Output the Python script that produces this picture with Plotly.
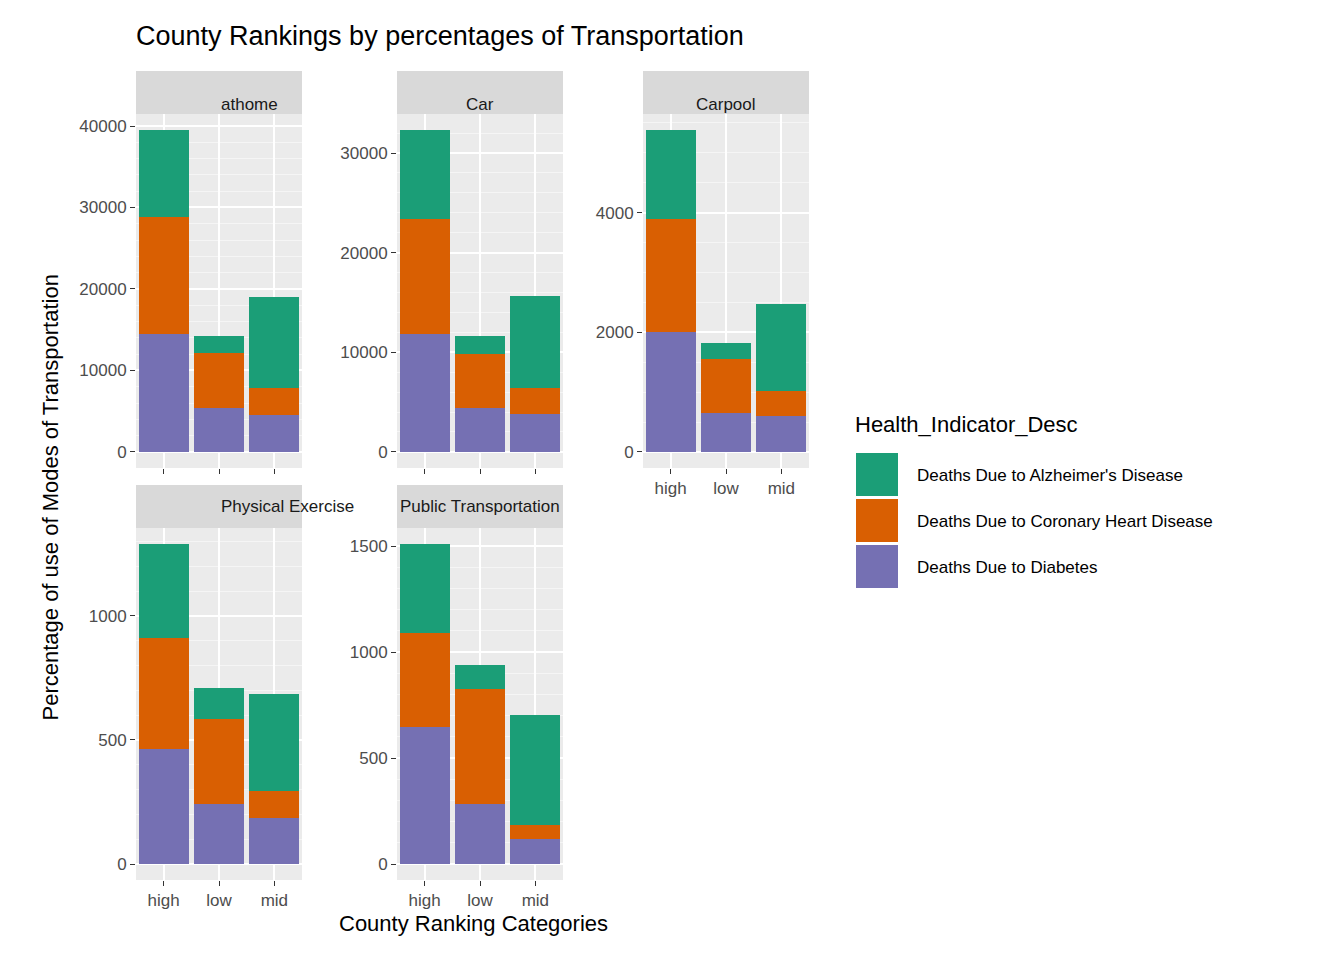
import plotly.graph_objects as go

categories = ["high", "low", "mid"]
panels = ["athome", "Car", "Carpool", "Physical Exercise", "Public Transportation"]
diabetes = {
    "athome": [14500, 5400, 4500],
    "Car": [11800, 4400, 3800],
    "Carpool": [2000, 650, 600],
    "Physical Exercise": [465, 240, 185],
    "Public Transportation": [645, 285, 120],
}
heart = {
    "athome": [14300, 6700, 3300],
    "Car": [11600, 5400, 2600],
    "Carpool": [1900, 900, 420],
    "Physical Exercise": [445, 345, 110],
    "Public Transportation": [445, 540, 65],
}
alzheimer = {
    "athome": [10700, 2100, 11200],
    "Car": [8900, 1800, 9200],
    "Carpool": [1480, 270, 1460],
    "Physical Exercise": [380, 125, 390],
    "Public Transportation": [420, 115, 520],
}
dticks = [10000, 10000, 2000, 500, 500]

W, H = 1344, 960
px = lambda v: v / W
py = lambda v: 1 - v / H
xdom = [(128, 294), (389, 555), (635, 801), (128, 294), (389, 555)]
ydom = [(106, 460), (106, 460), (106, 460), (520, 872), (520, 872)]
strip = [(63, 106)] * 3 + [(477, 520)] * 2

series = [("Deaths Due to Diabetes", diabetes, "#7570B3"),
          ("Deaths Due to Coronary Heart Disease", heart, "#D95F02"),
          ("Deaths Due to Alzheimer's Disease", alzheimer, "#1B9E77")]

fig = go.Figure()
layout = {}
shapes, annotations = [], []
for i, p in enumerate(panels):
    n = "" if i == 0 else str(i + 1)
    for name, d, col in series:
        fig.add_trace(go.Bar(x=categories, y=d[p], name=name, marker_color=col,
                             marker_line_width=0, showlegend=False,
                             xaxis="x" + n, yaxis="y" + n))
    total = max(a + b + c for a, b, c in zip(diabetes[p], heart[p], alzheimer[p]))
    layout["xaxis" + n] = dict(domain=[px(xdom[i][0]), px(xdom[i][1])], anchor="y" + n,
                               showgrid=True, gridcolor="white", gridwidth=1.5,
                               ticks="outside", ticklen=5, tickcolor="#333",
                               showticklabels=(i >= 2), tickfont=dict(size=17, color="#4D4D4D"))
    layout["yaxis" + n] = dict(domain=[py(ydom[i][1]), py(ydom[i][0])], anchor="x" + n,
                               range=[-0.05 * total, 1.05 * total], dtick=dticks[i], tickformat="d",
                               showgrid=True, gridcolor="white", gridwidth=1.5, zeroline=False,
                               minor=dict(showgrid=True, gridcolor="#F5F5F5", gridwidth=0.8),
                               ticks="outside", ticklen=5, tickcolor="#333",
                               tickfont=dict(size=17, color="#4D4D4D"))
    shapes.append(dict(type="rect", xref="paper", yref="paper", layer="below",
                       x0=px(xdom[i][0]), x1=px(xdom[i][1]), y0=py(strip[i][1]), y1=py(strip[i][0]),
                       fillcolor="#D9D9D9", line_width=0))
    annotations.append(dict(text=p, xref="paper", yref="paper", showarrow=False,
                            x=px((xdom[i][0] + xdom[i][1]) / 2), y=py((strip[i][0] + strip[i][1]) / 2),
                            font=dict(size=17, color="#1A1A1A")))

# legend drawn by hand (ggplot style keys)
annotations.append(dict(text="Health_Indicator_Desc", xref="paper", yref="paper", x=px(845), y=py(417),
                        xanchor="left", showarrow=False, font=dict(size=22, color="black")))
for k, (name, d, col) in enumerate(reversed(series)):
    top = 445 + 46 * k
    shapes.append(dict(type="rect", xref="paper", yref="paper", x0=px(848), x1=px(890),
                       y0=py(top + 43), y1=py(top), fillcolor=col, line_width=0))
    annotations.append(dict(text=name, xref="paper", yref="paper", x=px(907), y=py(top + 22),
                            xanchor="left", showarrow=False, font=dict(size=17, color="black")))

annotations += [
    dict(text="Percentage of use of Modes of Transportation", textangle=-90, xref="paper", yref="paper",
         x=px(28), y=py(490), showarrow=False, font=dict(size=22, color="black")),
    dict(text="County Ranking Categories", xref="paper", yref="paper", x=px(465), y=py(930),
         showarrow=False, font=dict(size=22, color="black")),
]

fig.update_layout(
    width=W, height=H, margin=dict(l=0, r=0, t=0, b=0, autoexpand=False),
    barmode="stack", bargap=0.1, plot_bgcolor="#EBEBEB", paper_bgcolor="white",
    font=dict(family="Liberation Sans, Arial", color="black"),
    title=dict(text="County Rankings by percentages of Transportation", x=px(128), xanchor="left",
               y=py(28), yanchor="middle", font=dict(size=27)),
    shapes=shapes, annotations=annotations, **layout)

fig.write_html("out.html")
